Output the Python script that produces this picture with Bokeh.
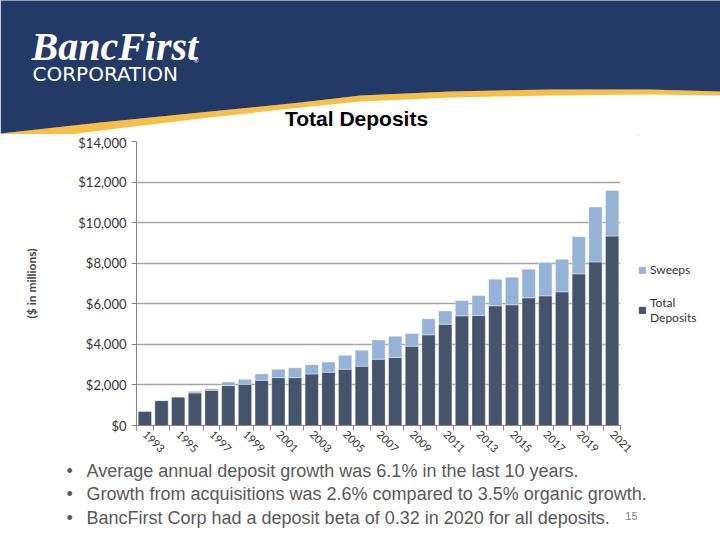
import math
from bokeh.plotting import figure
from bokeh.layouts import column, row
from bokeh.models import (Range1d, FixedTicker, NumeralTickFormatter, Legend, LegendItem,
                          ColumnDataSource)
from bokeh.core.properties import value
from bokeh.embed import file_html
from bokeh.resources import INLINE

# ---- data ($ millions) ----
years = list(range(1993, 2022))
total_deposits = [705, 1230, 1410, 1605, 1735, 1965, 2030, 2230, 2360, 2360, 2540, 2625,
                  2775, 2925, 3270, 3350, 3910, 4470, 4995, 5405, 5420, 5900, 5950, 6295,
                  6390, 6590, 7475, 8065, 9340]
sweeps = [0, 0, 0, 80, 80, 180, 245, 310, 410, 490, 460, 500,
          690, 790, 950, 1050, 625, 790, 655, 755, 990, 1310, 1360, 1410,
          1640, 1605, 1835, 2705, 2250]
tick_years = list(range(1993, 2022, 2))
series_names = ["Sweeps", "Total\nDeposits"]
title_text = "Total Deposits"
y_label = "($ in millions)"
bullets = ["Average annual deposit growth was 6.1% in the last 10 years.",
           "Growth from acquisitions was 2.6% compared to 3.5% organic growth.",
           "BancFirst Corp had a deposit beta of 0.32 in 2020 for all deposits."]

DARK = "#44546A"
LIGHT = "#95B3D7"
NAVY = "#233A66"
GOLD = "#F8BE45"

H_HEAD = 134
H_CHART = 326
H_FOOT = 540 - H_HEAD - H_CHART
W_CHART = 638


def blank(w, h, y0):
    f = figure(width=w, height=h, output_backend="svg", toolbar_location=None,
               x_range=Range1d(0, w), y_range=Range1d(y0 + h, y0),
               x_axis_type=None, y_axis_type=None, min_border=0)
    f.outline_line_color = None
    f.grid.grid_line_color = None
    f.background_fill_color = "white"
    f.border_fill_color = "white"
    f.frame_align = False
    return f


# ---------------- header ----------------
head = blank(720, H_HEAD, 0)
top_pts = [(0, 133), (100, 122), (200, 112), (300, 102), (360, 95), (450, 91),
           (550, 89), (650, 89), (720, 91)]
bot_pts = [(0, 143), (100, 130), (200, 118), (300, 107), (360, 101), (450, 97),
           (550, 95), (650, 94), (720, 95)]
navy_poly = [(0, -2), (720, -2)] + top_pts[::-1]
gold_poly = top_pts + bot_pts[::-1]
head.patch([a for a, b in gold_poly], [b for a, b in gold_poly], fill_color=GOLD,
           line_color=None)
head.patch([a for a, b in navy_poly], [b for a, b in navy_poly], fill_color=NAVY,
           line_color=None)
head.text(x=[31], y=[46], text=["BancFirst"], text_font=value("Liberation Serif"),
          text_font_style="bold italic", text_font_size="40px", text_color="white",
          text_baseline="middle")
head.text(x=[193], y=[60], text=["®"], text_font=value("Liberation Sans"),
          text_font_size="7px", text_color="white", text_baseline="middle")
head.text(x=[32], y=[73], text=["CORPORATION"], text_font=value("DejaVu Sans"),
          text_font_size="20px", text_color="white", text_baseline="middle")
head.text(x=[356], y=[118], text=[title_text], text_font=value("Liberation Sans"),
          text_font_style="bold", text_font_size="21px", text_color="black",
          text_align="center", text_baseline="middle")

# ---------------- chart ----------------
FL, FR = 136, 620
p = figure(width=W_CHART, height=H_CHART, output_backend="svg", toolbar_location=None,
           x_range=Range1d(1992.5, 2021.5), y_range=Range1d(0, 14000),
           min_border_left=FL, min_border_right=W_CHART - FR, min_border_top=7,
           min_border_bottom=35)
p.frame_align = False
p.outline_line_color = None
p.background_fill_color = "white"
p.border_fill_color = "white"

src = ColumnDataSource(dict(year=years, total_deposits=total_deposits, sweeps=sweeps))
rs = p.vbar_stack(["total_deposits", "sweeps"], x="year", width=0.8, source=src,
                  color=[DARK, LIGHT], line_color="white", line_width=0.4)

p.xgrid.grid_line_color = None
p.ygrid.grid_line_color = "#A6A6A6"
p.ygrid.grid_line_width = 1.3
p.yaxis.ticker = FixedTicker(ticks=list(range(0, 14001, 2000)))
p.yaxis.formatter = NumeralTickFormatter(format="$0,0")
p.yaxis.major_label_text_font = "Lato"
p.yaxis.major_label_text_font_size = "13px"
p.yaxis.major_label_text_color = "#333333"
p.yaxis.axis_line_color = "#868686"
p.yaxis.major_tick_line_color = "#868686"
p.yaxis.major_tick_out = 5
p.yaxis.major_tick_in = 0
p.yaxis.minor_tick_line_color = None
p.yaxis.axis_label = y_label
p.yaxis.axis_label_text_font = "Lato"
p.yaxis.axis_label_text_font_style = "bold"
p.yaxis.axis_label_text_font_size = "12px"
p.yaxis.axis_label_standoff = 36

p.xaxis.ticker = FixedTicker(ticks=tick_years, minor_ticks=[y - 0.5 for y in years] + [2021.5])
p.xaxis.formatter.use_scientific = False
p.xaxis.major_label_orientation = -math.pi / 4
p.xaxis.major_label_text_font = "Lato"
p.xaxis.major_label_text_font_size = "11px"
p.xaxis.major_label_text_color = "#333333"
p.xaxis.axis_line_color = "#868686"
p.xaxis.major_tick_line_color = None
p.xaxis.minor_tick_line_color = "#868686"
p.xaxis.minor_tick_out = 5
p.xaxis.minor_tick_in = 0
p.xaxis.major_label_standoff = 1

# ---------------- legend panel ----------------
lf = blank(720 - W_CHART, H_CHART, 0)
# off-screen proxy glyphs so the legend swatches carry the series colours
ls = lf.vbar(x=[-100], top=[-100], bottom=[-101], width=1, color=LIGHT)
ld = lf.vbar(x=[-100], top=[-100], bottom=[-101], width=1, color=DARK)
legend = Legend(items=[LegendItem(label=series_names[0], renderers=[ls]),
                       LegendItem(label=series_names[1], renderers=[ld])],
                location=(0, 135), glyph_width=8, glyph_height=8, spacing=18,
                label_text_font="Lato", label_text_font_size="12px",
                label_text_color="#333333", border_line_color=None,
                background_fill_alpha=0, padding=0, margin=0, label_standoff=4)
lf.add_layout(legend, "center")

# ---------------- footer ----------------
Y0 = H_HEAD + H_CHART
foot = blank(720, H_FOOT, Y0)
by = [470 + i * 23.5 for i in range(len(bullets))]
foot.text(x=[66] * 3, y=by, text=["•"] * 3, text_font=value("Liberation Sans"),
          text_font_size="18px", text_color="#595959", text_baseline="middle")
foot.text(x=[86] * 3, y=by, text=bullets, text_font=value("Liberation Sans"),
          text_font_size="18px", text_color="#595959", text_baseline="middle")
foot.text(x=[637], y=[515], text=["15"], text_font=value("Liberation Sans"),
          text_font_size="11px", text_color="#7F7F7F", text_align="right",
          text_baseline="middle")

layout = column(head, row(p, lf, spacing=0), foot, spacing=0)
open("out.html", "w").write(file_html(layout, INLINE))
